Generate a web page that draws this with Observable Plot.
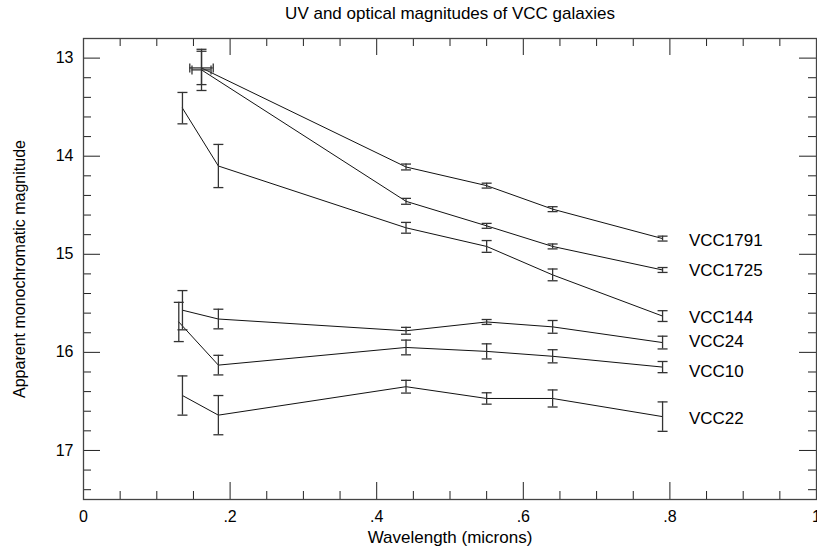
<!DOCTYPE html>
<html>
<head>
<meta charset="utf-8">
<script src="https://cdn.jsdelivr.net/npm/d3@7"></script>
<script src="https://cdn.jsdelivr.net/npm/@observablehq/plot@0.6"></script>
<style>
  html, body { margin: 0; padding: 0; background: #fff; }
  #chart svg { display: block; }
</style>
</head>
<body>
<div id="chart"></div>
<script>
// ---- Data ----
const galaxies = ["VCC1791", "VCC1725", "VCC144", "VCC24", "VCC10", "VCC22"];

const vcc1791X    = [0.161, 0.44, 0.55, 0.64, 0.79];
const vcc1791Mag  = [13.10, 14.11, 14.30, 14.54, 14.84];
const vcc1791Err  = [0.17, 0.03, 0.025, 0.025, 0.025];
const vcc1791XErr = [0.016, 0, 0, 0, 0];

const vcc1725X    = [0.161, 0.44, 0.55, 0.64, 0.79];
const vcc1725Mag  = [13.12, 14.46, 14.71, 14.92, 15.16];
const vcc1725Err  = [0.21, 0.03, 0.025, 0.025, 0.025];
const vcc1725XErr = [0.013, 0, 0, 0, 0];

const vcc144X   = [0.135, 0.184, 0.44, 0.55, 0.64, 0.79];
const vcc144Mag = [13.51, 14.10, 14.73, 14.92, 15.21, 15.63];
const vcc144Err = [0.16, 0.22, 0.055, 0.06, 0.06, 0.055];

const vcc24X   = [0.135, 0.184, 0.44, 0.55, 0.64, 0.79];
const vcc24Mag = [15.57, 15.66, 15.78, 15.69, 15.74, 15.90];
const vcc24Err = [0.20, 0.10, 0.035, 0.025, 0.065, 0.065];

const vcc10X   = [0.130, 0.184, 0.44, 0.55, 0.64, 0.79];
const vcc10Mag = [15.69, 16.13, 15.95, 15.99, 16.04, 16.15];
const vcc10Err = [0.20, 0.10, 0.075, 0.077, 0.067, 0.057];

const vcc22X   = [0.135, 0.184, 0.44, 0.55, 0.64, 0.79];
const vcc22Mag = [16.44, 16.64, 16.35, 16.47, 16.47, 16.655];
const vcc22Err = [0.20, 0.20, 0.065, 0.058, 0.087, 0.15];

const labelX = 0.826;
const labelY = [14.86, 15.17, 15.64, 15.89, 16.20, 16.67];

const xMajor = [0, 0.2, 0.4, 0.6, 0.8, 1];
const xMinor = [0.05, 0.1, 0.15, 0.25, 0.3, 0.35, 0.45, 0.5, 0.55, 0.65, 0.7, 0.75, 0.85, 0.9, 0.95];
const yMajor = [13, 14, 15, 16, 17];
const yMinor = [13.2, 13.4, 13.6, 13.8, 14.2, 14.4, 14.6, 14.8, 15.2, 15.4, 15.6, 15.8,
                16.2, 16.4, 16.6, 16.8, 17.2, 17.4];
const xTickLabels = ["0", ".2", ".4", ".6", ".8", "1"];

const title = "UV and optical magnitudes of VCC galaxies";
const xTitle = "Wavelength (microns)";
const yTitle = "Apparent monochromatic magnitude";

// ---- Build table ----
const series = [
  [vcc1791X, vcc1791Mag, vcc1791Err, vcc1791XErr],
  [vcc1725X, vcc1725Mag, vcc1725Err, vcc1725XErr],
  [vcc144X, vcc144Mag, vcc144Err, null],
  [vcc24X, vcc24Mag, vcc24Err, null],
  [vcc10X, vcc10Mag, vcc10Err, null],
  [vcc22X, vcc22Mag, vcc22Err, null]
];
const rows = [];
series.forEach(([xs, ms, es, xes], gi) => {
  xs.forEach((x, i) => rows.push({
    galaxy: galaxies[gi], x, mag: ms[i], err: es[i], xerr: xes ? xes[i] : 0
  }));
});
const xErrRows = rows.filter(d => d.xerr > 0);
const labels = galaxies.map((g, i) => ({galaxy: g, y: labelY[i]}));

// ---- Layout ----
const W = 817, H = 552;
const mL = 83, mR = 1, mT = 38, mB = 53;
const frameW = W - mL - mR, frameH = H - mT - mB;
const majorLen = 17, minorLen = 8;

const hCap = {draw(ctx) { ctx.moveTo(-5, 0); ctx.lineTo(5, 0); }};
const vCap = {draw(ctx) { ctx.moveTo(0, -4.5); ctx.lineTo(0, 4.5); }};

const ink = "#111";
const barInk = "#333";
const tickInk = "#222";

const chart = Plot.plot({
  width: W,
  height: H,
  marginLeft: mL, marginRight: mR, marginTop: mT, marginBottom: mB,
  style: {fontFamily: "'Liberation Sans', Arial, Helvetica, sans-serif", fontSize: "16px", background: "#fff", color: "#000"},
  x: {domain: [0, 1], axis: null},
  y: {domain: [12.8, 17.5], reverse: true, axis: null},
  marks: [
    // ticks pointing inward on all four sides
    Plot.tickX(xMajor, {x: d => d, insetBottom: frameH - majorLen, stroke: tickInk}),
    Plot.tickX(xMajor, {x: d => d, insetTop: frameH - majorLen, stroke: tickInk}),
    Plot.tickX(xMinor, {x: d => d, insetBottom: frameH - minorLen, stroke: tickInk}),
    Plot.tickX(xMinor, {x: d => d, insetTop: frameH - minorLen, stroke: tickInk}),
    Plot.tickY(yMajor, {y: d => d, insetRight: frameW - majorLen, stroke: tickInk}),
    Plot.tickY(yMajor, {y: d => d, insetLeft: frameW - majorLen, stroke: tickInk}),
    Plot.tickY(yMinor, {y: d => d, insetRight: frameW - minorLen, stroke: tickInk}),
    Plot.tickY(yMinor, {y: d => d, insetLeft: frameW - minorLen, stroke: tickInk}),
    Plot.frame({stroke: "#444", strokeWidth: 1.3}),

    // tick labels
    Plot.axisX({ticks: xMajor, tickFormat: d => xTickLabels[xMajor.indexOf(d)], tickSize: 0, tickPadding: 11, fontSize: 16, label: null}),
    Plot.axisY({ticks: yMajor, tickFormat: d => String(d), tickSize: 0, tickPadding: 10, fontSize: 16, label: null}),

    // lines
    Plot.line(rows, {x: "x", y: "mag", z: "galaxy", stroke: ink, strokeWidth: 1}),

    // vertical error bars
    Plot.ruleX(rows, {x: "x", y1: d => d.mag - d.err, y2: d => d.mag + d.err, stroke: barInk, strokeWidth: 1.3}),
    Plot.dot(rows, {x: "x", y: d => d.mag - d.err, symbol: hCap, stroke: barInk, strokeWidth: 1.3, fill: "none"}),
    Plot.dot(rows, {x: "x", y: d => d.mag + d.err, symbol: hCap, stroke: barInk, strokeWidth: 1.3, fill: "none"}),

    // horizontal error bars (UV point)
    Plot.ruleY(xErrRows, {y: "mag", x1: d => d.x - d.xerr, x2: d => d.x + d.xerr, stroke: barInk, strokeWidth: 1.3}),
    Plot.dot(xErrRows, {x: d => d.x - d.xerr, y: "mag", symbol: vCap, stroke: barInk, strokeWidth: 1.3, fill: "none"}),
    Plot.dot(xErrRows, {x: d => d.x + d.xerr, y: "mag", symbol: vCap, stroke: barInk, strokeWidth: 1.3, fill: "none"}),

    // galaxy labels
    Plot.text(labels, {x: () => labelX, y: "y", text: "galaxy", textAnchor: "start", fontSize: 17, fill: "#000"}),

    // titles
    Plot.text([title], {frameAnchor: "top", lineAnchor: "middle", textAnchor: "middle", dy: -25, fontSize: 17, fill: "#000"}),
    Plot.text([xTitle], {frameAnchor: "bottom", lineAnchor: "middle", textAnchor: "middle", dy: 38, fontSize: 17, fill: "#000"}),
    Plot.text([yTitle], {frameAnchor: "left", lineAnchor: "middle", textAnchor: "middle", dx: -64, rotate: -90, fontSize: 16, fill: "#000"})
  ]
});

document.getElementById("chart").appendChild(chart);
</script>
</body>
</html>
